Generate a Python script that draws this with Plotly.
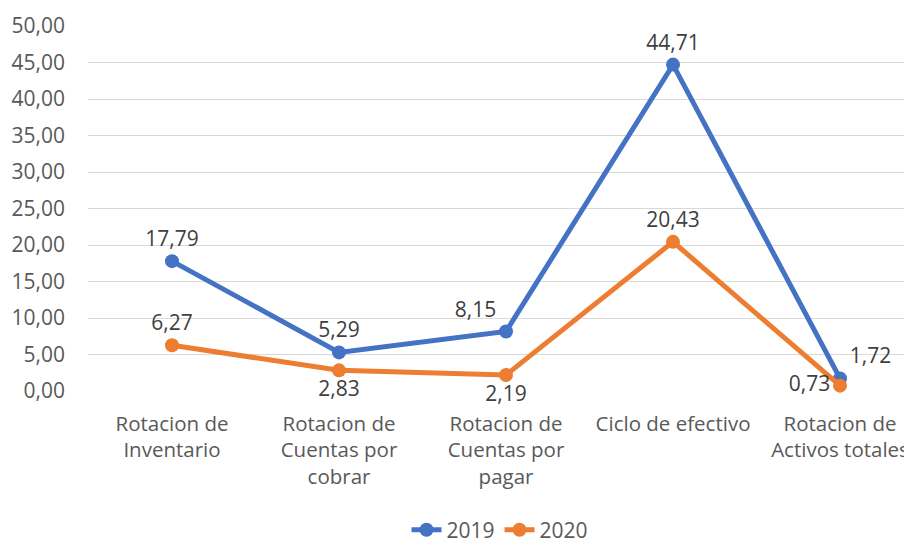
import plotly.graph_objects as go

categories = ["Rotacion de<br>Inventario", "Rotacion de<br>Cuentas por<br>cobrar",
              "Rotacion de<br>Cuentas por<br>pagar", "Ciclo de efectivo",
              "Rotacion de<br>Activos totales"]
values_2019 = [17.79, 5.29, 8.15, 44.71, 1.72]
values_2020 = [6.27, 2.83, 2.19, 20.43, 0.73]
tick_vals = [0, 5, 10, 15, 20, 25, 30, 35, 40, 45, 50]

pos_2019 = ["top center", "top center", "top left", "top center", "top right"]
pos_2020 = ["top center", "bottom center", "bottom center", "top center", "middle left"]

font_family = "Open Sans, Noto Sans, sans-serif"
txt_color = "#404040"

fig = go.Figure()
fig.add_trace(go.Scatter(
    x=list(range(5)), y=values_2019, name="2019", mode="lines+markers+text",
    line=dict(color="#4472C4", width=5), marker=dict(size=14, color="#4472C4"),
    text=[f"{v:.2f}".replace(".", ",") for v in values_2019],
    textposition=pos_2019, textfont=dict(size=21, color=txt_color, family=font_family),
    cliponaxis=False,
))
fig.add_trace(go.Scatter(
    x=list(range(5)), y=values_2020, name="2020", mode="lines+markers+text",
    line=dict(color="#ED7D31", width=5), marker=dict(size=14, color="#ED7D31"),
    text=[f"{v:.2f}".replace(".", ",") for v in values_2020],
    textposition=pos_2020, textfont=dict(size=21, color=txt_color, family=font_family),
    cliponaxis=False,
))

fig.update_layout(
    width=904, height=533,
    margin=dict(l=80, r=0, t=18, b=150, autoexpand=False),
    plot_bgcolor="white", paper_bgcolor="white",
    separators=",.",
    font=dict(family=font_family, size=20.5, color="#595959"),
    showlegend=True,
    legend=dict(orientation="h", x=0.5, xanchor="center", y=-0.381, yanchor="middle",
                font=dict(size=21, color="#595959")),
    xaxis=dict(tickmode="array", tickvals=list(range(5)), ticktext=categories,
               range=[-0.503, 4.431], showgrid=False, zeroline=False, showline=False,
               ticks="", tickfont=dict(size=20.5), ticklabelstandoff=18),
    yaxis=dict(range=[0, 50], tickvals=tick_vals, tickformat=".2f",
               showgrid=True, gridcolor="#D9D9D9", gridwidth=1.3, zeroline=False,
               showline=False, ticks="", ticklabelstandoff=22, tickfont=dict(size=21)),
)

fig.write_html("out.html")
